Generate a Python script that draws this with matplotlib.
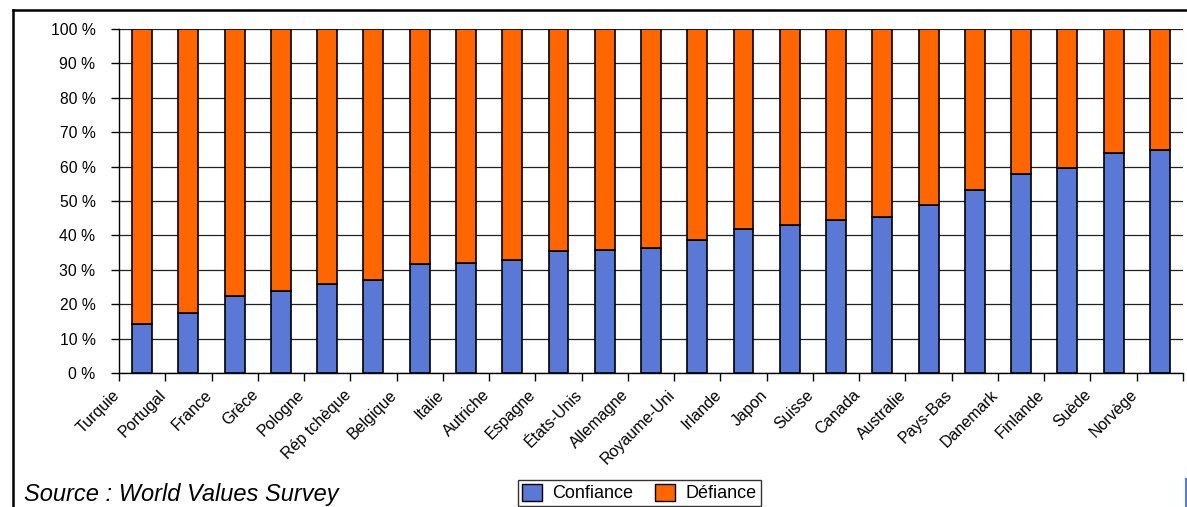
import matplotlib
matplotlib.use("Agg")
import matplotlib.pyplot as plt
import matplotlib.transforms as mtransforms
from matplotlib.lines import Line2D
from matplotlib.patches import Patch
import numpy as np

plt.rcParams["font.family"] = ["Liberation Sans", "DejaVu Sans"]

countries = ["Turquie", "Portugal", "France", "Grèce", "Pologne", "Rép tchèque",
             "Belgique", "Italie", "Autriche", "Espagne", "États-Unis", "Allemagne",
             "Royaume-Uni", "Irlande", "Japon", "Suisse", "Canada", "Australie",
             "Pays-Bas", "Danemark", "Finlande", "Suède", "Norvège"]
confiance = [14.2, 17.4, 22.4, 23.9, 25.9, 27.1, 31.6, 32.0, 32.8, 35.5, 35.9, 36.2,
             38.7, 42.0, 43.1, 44.4, 45.3, 48.9, 53.2, 57.8, 59.7, 63.9, 64.7]
defiance = [100 - v for v in confiance]
yticks = list(range(0, 101, 10))

BLUE = "#5A78D6"
ORANGE = "#FF6600"

fig = plt.figure(figsize=(11.87, 5.07), dpi=100)
ax = fig.add_axes([119 / 1187, 134 / 507, 1064 / 1187, 344 / 507])

x = np.arange(len(countries))
ax.bar(x, confiance, width=0.43, color=BLUE, edgecolor="black", linewidth=1.2, zorder=3)
ax.bar(x, defiance, width=0.43, bottom=confiance, color=ORANGE, edgecolor="black",
       linewidth=1.2, zorder=3)

ax.set_xlim(-0.5, len(countries) - 0.5)
ax.set_ylim(0, 100)
ax.set_yticks(yticks)
ax.set_yticklabels([f"{t} %" for t in yticks], fontsize=11.3)
ax.yaxis.grid(True, color="#222222", linewidth=0.9, zorder=0)
ax.tick_params(axis="y", length=6, width=1, pad=11, direction="out")

# tick marks between categories, labels shifted left like the original
ax.set_xticks(np.arange(len(countries) + 1) - 0.5, minor=True)
ax.tick_params(axis="x", which="minor", length=6, width=1, direction="out")
ax.set_xticks(x)
ax.set_xticklabels(countries, rotation=45, ha="right", va="center",
                   rotation_mode="anchor", fontsize=11.5)
ax.tick_params(axis="x", which="major", length=0, pad=14)
shift = mtransforms.ScaledTranslation(-25 / 100, 0, fig.dpi_scale_trans)
for lab in ax.get_xticklabels():
    lab.set_transform(lab.get_transform() + shift)

for s in ["top", "right"]:
    ax.spines[s].set_visible(False)
for s in ["left", "bottom"]:
    ax.spines[s].set_color("black")
    ax.spines[s].set_linewidth(1)

handles = [Patch(facecolor=BLUE, edgecolor="black", label="Confiance"),
           Patch(facecolor=ORANGE, edgecolor="black", label="Défiance")]
fig.legend(handles=handles, loc="center", bbox_to_anchor=(639.5 / 1187, 1 - 493 / 507),
           ncol=2, frameon=True, fancybox=False, edgecolor="black", fontsize=13,
           handlelength=1.1, handleheight=1.1, columnspacing=1.2, handletextpad=0.6,
           borderpad=0.2)

fig.text(24 / 1187, 1.5 / 507, "Source : World Values Survey", fontsize=17,
         style="italic", va="bottom", ha="left")

# outer frame of the original chart area
fig.add_artist(Line2D([13 / 1187, 1], [1 - 10 / 507, 1 - 10 / 507], color="black",
                      linewidth=1.8, transform=fig.transFigure))
fig.add_artist(Line2D([13 / 1187, 13 / 1187], [0, 1 - 10 / 507], color="black",
                      linewidth=1.8, transform=fig.transFigure))
fig.add_artist(Line2D([1186 / 1187, 1186 / 1187], [0, 1 - 479 / 507], color=BLUE,
                      linewidth=1.5, transform=fig.transFigure))

fig.savefig("out.png", dpi=100)
